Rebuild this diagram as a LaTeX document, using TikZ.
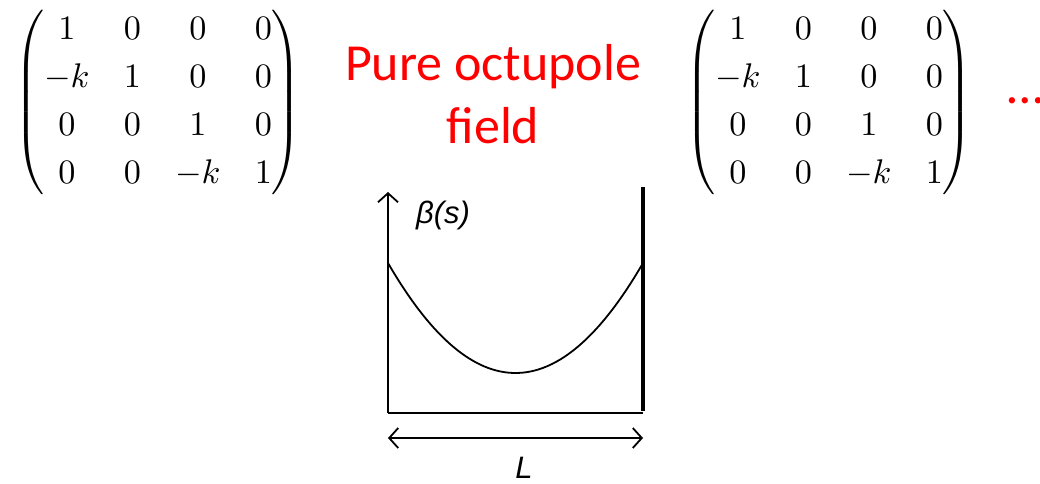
\documentclass[tikz,border=0pt]{standalone}
\usepackage{amsmath}
\usepackage{fontspec}
\newfontfamily\calibri{Carlito}
\newfontfamily\plotfont{Liberation Sans}
\usetikzlibrary{arrows.meta}
\renewcommand{\arraystretch}{1.17}

\begin{document}
\begin{tikzpicture}[
  x=1pt, y=-1pt,                % 1 unit = 1 pixel, y downwards
  mat/.style={scale=3.42, inner sep=0pt},
  title/.style={text=red, font=\calibri\fontsize{52}{63}\selectfont, align=center},
  lbl/.style={font=\plotfont\itshape\fontsize{31}{31}\selectfont, inner sep=0pt},
  axis/.style={line width=1.8pt, draw=black},
  bar/.style={line width=4.5pt, draw=black},
  tip/.style={-{Straight Barb[length=9pt,width=20pt,line width=1.8pt]}},
  tips/.style={{Straight Barb[length=9pt,width=20pt,line width=1.8pt]}-{Straight Barb[length=9pt,width=20pt,line width=1.8pt]}}
]
\useasboundingbox (0,0) rectangle (1040,483);

% ===================== TOP: transfer matrices =====================
\node[mat] (mleft)  at (158,102)
  {$\begin{pmatrix} 1 & 0 & 0 & 0\\ -k & 1 & 0 & 0\\ 0 & 0 & 1 & 0\\ 0 & 0 & -k & 1 \end{pmatrix}$};
\node[mat] (mright) at (829,102)
  {$\begin{pmatrix} 1 & 0 & 0 & 0\\ -k & 1 & 0 & 0\\ 0 & 0 & 1 & 0\\ 0 & 0 & -k & 1 \end{pmatrix}$};

\node[title] (field) at (493,94) {Pure octupole\\field};
\node[title, anchor=west] (dots) at (1004,101) {…};

% ===================== BOTTOM: beta function =====================
\begin{scope}
  % Frame points
  \coordinate (o)   at (388,413);   % origin
  \coordinate (top) at (388,192);   % axis tip
  \coordinate (e)   at (643,413);   % end of cell
  \coordinate (et)  at (643,187);   % top of thick bar
  \coordinate (la)  at (388,438);   % length arrow, left
  \coordinate (lb)  at (643,438);   % length arrow, right

  % Axes
  \draw[axis, tip] (o) -- (top);
  \draw[axis] (o) -- (e);
  \draw[bar] ([yshift=2pt]e) -- (et);

  % beta(s)
  \draw[line width=1.8pt] plot[domain=388:643, samples=60, smooth]
    (\x, {373 - 110*((\x-515.5)/127.5)^2});

  % Length
  \draw[axis, tips] (la) -- (lb);

  % Labels
  \node[lbl] (beta) at (443,215) {β(s)};
  \node[lbl] (len)  at (524,468) {L};
\end{scope}

\end{tikzpicture}
\end{document}
